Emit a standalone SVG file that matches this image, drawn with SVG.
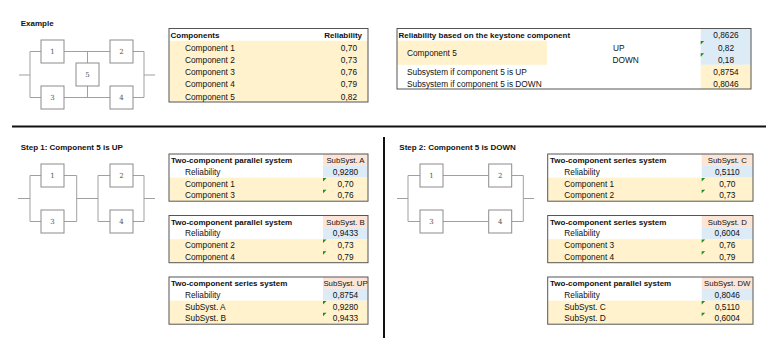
<svg xmlns="http://www.w3.org/2000/svg" xmlns:xlink="http://www.w3.org/1999/xlink" width="778" height="349" viewBox="0 0 778 349">
<defs>
<style>
.t{font-family:"Liberation Sans",Arial,sans-serif;font-size:8.3px;fill:#111}
.b{font-weight:bold;font-size:8px}
.m{text-anchor:middle}
.e{text-anchor:end}
.s{font-size:7.8px}
.box{fill:#fff;stroke:#8c8c8c;stroke-width:1}
.num{font-family:"DejaVu Serif","Liberation Serif",serif;font-size:7px;fill:#555;text-anchor:middle}
.wire{stroke:#a0a0a0;stroke-width:1;fill:none}
.tbl{fill:none;stroke:#555;stroke-width:1}
.y{fill:#FFF2CC}
.bl{fill:#DDEBF7}
.pk{fill:#FCE4D6}
.tri{fill:#1e8c1e}
.sep{stroke:#111;stroke-width:2}
</style>
<path id="tri" class="tri" d="M0,0h3.5l-3.5,3.5z"/>
</defs>
<rect width="778" height="349" fill="#fff"/>

<text class="t b" x="20.7" y="26">Example</text>
<text class="t b" x="20.7" y="150">Step 1: Component 5 is UP</text>
<text class="t b" x="399.3" y="150">Step 2: Component 5 is DOWN</text>

<g id="separators">
<line class="sep" x1="12" y1="126.5" x2="766" y2="126.5"/>
<line class="sep" x1="384" y1="137" x2="384" y2="338"/>
</g>

<g id="connectors">
<path class="wire" d="M19,75H30M30,51.5V97.5M30,51.5H41M30,97.5H41M64,51.5H110M64,97.5H110M87.5,51.5V63M87.5,86V97.5M133,51.5H144M133,97.5H144M144,51.5V97.5M144,75H155"/>
<path class="wire" d="M18,198.5H30M30,175.5V221.5M30,175.5H41M30,221.5H41M64,175.5H76.7M64,221.5H76.7M76.7,175.5V221.5M76.7,198.5H98M98,175.5V221.5M98,175.5H110M98,221.5H110M133,175.5H144M133,221.5H144M144,175.5V221.5M144,198.5H155"/>
<path class="wire" d="M397,198.5H408M408,175.5V221.5M408,175.5H420M408,221.5H420M443,175.5H488.7M443,221.5H488.7M511.7,175.5H523.3M511.7,221.5H523.3M523.3,175.5V221.5M523.3,198.5H534"/>
</g>

<g id="ex-c1"><rect class="box" x="41" y="40" width="23" height="23"/><text class="num" x="52.5" y="54">1</text></g>
<g id="ex-c2"><rect class="box" x="110" y="40" width="23" height="23"/><text class="num" x="121.5" y="54">2</text></g>
<g id="ex-c5"><rect class="box" x="76" y="63" width="23" height="23"/><text class="num" x="87.5" y="77">5</text></g>
<g id="ex-c3"><rect class="box" x="41" y="86" width="23" height="23"/><text class="num" x="52.5" y="100">3</text></g>
<g id="ex-c4"><rect class="box" x="110" y="86" width="23" height="23"/><text class="num" x="121.5" y="100">4</text></g>

<g id="s1-c1"><rect class="box" x="41" y="164" width="23" height="23"/><text class="num" x="52.5" y="178">1</text></g>
<g id="s1-c3"><rect class="box" x="41" y="210" width="23" height="23"/><text class="num" x="52.5" y="224">3</text></g>
<g id="s1-c2"><rect class="box" x="110" y="164" width="23" height="23"/><text class="num" x="121.5" y="178">2</text></g>
<g id="s1-c4"><rect class="box" x="110" y="210" width="23" height="23"/><text class="num" x="121.5" y="224">4</text></g>

<g id="s2-c1"><rect class="box" x="420" y="164" width="23" height="23"/><text class="num" x="431.5" y="178">1</text></g>
<g id="s2-c3"><rect class="box" x="420" y="210" width="23" height="23"/><text class="num" x="431.5" y="224">3</text></g>
<g id="s2-c2"><rect class="box" x="488.7" y="164" width="23" height="23"/><text class="num" x="500.2" y="178">2</text></g>
<g id="s2-c4"><rect class="box" x="488.7" y="210" width="23" height="23"/><text class="num" x="500.2" y="224">4</text></g>

<g id="components-table" transform="translate(169,28.5)">
<rect class="y" x="0" y="12.25" width="199" height="61.25"/>
<rect class="tbl" x="0" y="0" width="199" height="73.5"/>
<text class="t b" x="1.5" y="9.9">Components</text>
<text class="t b e" x="193" y="9.9">Reliability</text>
<text class="t" x="16" y="22.2">Component 1</text><text class="t e" x="188" y="22.2">0,70</text>
<text class="t" x="16" y="34.4">Component 2</text><text class="t e" x="188" y="34.4">0,73</text>
<text class="t" x="16" y="46.7">Component 3</text><text class="t e" x="188" y="46.7">0,76</text>
<text class="t" x="16" y="58.9">Component 4</text><text class="t e" x="188" y="58.9">0,79</text>
<text class="t" x="16" y="71.2">Component 5</text><text class="t e" x="188" y="71.2">0,82</text>
</g>

<g id="keystone-table" transform="translate(397,28.5)">
<rect class="bl" x="303.7" y="0" width="50.3" height="36.3"/>
<rect class="y" x="303.7" y="36.3" width="50.3" height="24.2"/>
<rect class="y" x="0" y="12.1" width="150" height="24.2"/>
<rect class="tbl" x="0" y="0" width="354" height="60.5"/>
<use xlink:href="#tri" x="303.7" y="12.6"/>
<use xlink:href="#tri" x="303.7" y="24.7"/>
<text class="t b" x="1.5" y="9.9">Reliability based on the keystone component</text>
<text class="t" x="10" y="27.5">Component 5</text>
<text class="t" x="216" y="22">UP</text>
<text class="t" x="215.5" y="34.1">DOWN</text>
<text class="t" x="10" y="46.2">Subsystem if component 5 is UP</text>
<text class="t" x="10" y="58.3">Subsystem if component 5 is DOWN</text>
<text class="t m" x="329" y="9.9">0,8626</text>
<text class="t m" x="329" y="22">0,82</text>
<text class="t m" x="329" y="34.1">0,18</text>
<text class="t m" x="329" y="46.2">0,8754</text>
<text class="t m" x="329" y="58.3">0,8046</text>
</g>

<g id="subsyst-a" transform="translate(169,154)">
<rect class="pk" x="154" y="0" width="45" height="11.8"/>
<rect class="bl" x="154" y="11.8" width="45" height="11.8"/>
<rect class="y" x="0" y="23.6" width="199" height="23.6"/>
<rect class="tbl" x="0" y="0" width="199" height="47.2"/>
<use xlink:href="#tri" x="154" y="24"/><use xlink:href="#tri" x="154" y="35.8"/>
<text class="t b" x="2" y="9">Two-component parallel system</text>
<text class="t s m" x="176.5" y="9">SubSyst. A</text>
<text class="t" x="16" y="20.8">Reliability</text><text class="t m" x="176.5" y="20.8">0,9280</text>
<text class="t" x="16" y="32.6">Component 1</text><text class="t m" x="176.5" y="32.6">0,70</text>
<text class="t" x="16" y="44.4">Component 3</text><text class="t m" x="176.5" y="44.4">0,76</text>
</g>

<g id="subsyst-b" transform="translate(169,215.5)">
<rect class="pk" x="154" y="0" width="45" height="11.8"/>
<rect class="bl" x="154" y="11.8" width="45" height="11.8"/>
<rect class="y" x="0" y="23.6" width="199" height="23.6"/>
<rect class="tbl" x="0" y="0" width="199" height="47.2"/>
<use xlink:href="#tri" x="154" y="24"/><use xlink:href="#tri" x="154" y="35.8"/>
<text class="t b" x="2" y="9">Two-component parallel system</text>
<text class="t s m" x="176.5" y="9">SubSyst. B</text>
<text class="t" x="16" y="20.8">Reliability</text><text class="t m" x="176.5" y="20.8">0,9433</text>
<text class="t" x="16" y="32.6">Component 2</text><text class="t m" x="176.5" y="32.6">0,73</text>
<text class="t" x="16" y="44.4">Component 4</text><text class="t m" x="176.5" y="44.4">0,79</text>
</g>

<g id="subsyst-up" transform="translate(169,277)">
<rect class="pk" x="154" y="0" width="45" height="11.8"/>
<rect class="bl" x="154" y="11.8" width="45" height="11.8"/>
<rect class="y" x="0" y="23.6" width="199" height="23.6"/>
<rect class="tbl" x="0" y="0" width="199" height="47.2"/>
<use xlink:href="#tri" x="154" y="24"/><use xlink:href="#tri" x="154" y="35.8"/>
<text class="t b" x="2" y="9">Two-component series system</text>
<text class="t s m" x="176.5" y="9">SubSyst. UP</text>
<text class="t" x="16" y="20.8">Reliability</text><text class="t m" x="176.5" y="20.8">0,8754</text>
<text class="t" x="16" y="32.6">SubSyst. A</text><text class="t m" x="176.5" y="32.6">0,9280</text>
<text class="t" x="16" y="44.4">SubSyst. B</text><text class="t m" x="176.5" y="44.4">0,9433</text>
</g>

<g id="subsyst-c" transform="translate(547.7,154)">
<rect class="pk" x="154" y="0" width="51.3" height="11.8"/>
<rect class="bl" x="154" y="11.8" width="51.3" height="11.8"/>
<rect class="y" x="0" y="23.6" width="205.3" height="23.6"/>
<rect class="tbl" x="0" y="0" width="205.3" height="47.2"/>
<use xlink:href="#tri" x="154" y="24"/><use xlink:href="#tri" x="154" y="35.8"/>
<text class="t b" x="2.3" y="9">Two-component series system</text>
<text class="t s m" x="179.6" y="9">SubSyst. C</text>
<text class="t" x="16.6" y="20.8">Reliability</text><text class="t m" x="179.6" y="20.8">0,5110</text>
<text class="t" x="16.6" y="32.6">Component 1</text><text class="t m" x="179.6" y="32.6">0,70</text>
<text class="t" x="16.6" y="44.4">Component 2</text><text class="t m" x="179.6" y="44.4">0,73</text>
</g>

<g id="subsyst-d" transform="translate(547.7,215.5)">
<rect class="pk" x="154" y="0" width="51.3" height="11.8"/>
<rect class="bl" x="154" y="11.8" width="51.3" height="11.8"/>
<rect class="y" x="0" y="23.6" width="205.3" height="23.6"/>
<rect class="tbl" x="0" y="0" width="205.3" height="47.2"/>
<use xlink:href="#tri" x="154" y="24"/><use xlink:href="#tri" x="154" y="35.8"/>
<text class="t b" x="2.3" y="9">Two-component series system</text>
<text class="t s m" x="179.6" y="9">SubSyst. D</text>
<text class="t" x="16.6" y="20.8">Reliability</text><text class="t m" x="179.6" y="20.8">0,6004</text>
<text class="t" x="16.6" y="32.6">Component 3</text><text class="t m" x="179.6" y="32.6">0,76</text>
<text class="t" x="16.6" y="44.4">Component 4</text><text class="t m" x="179.6" y="44.4">0,79</text>
</g>

<g id="subsyst-dw" transform="translate(547.7,277)">
<rect class="pk" x="154" y="0" width="51.3" height="11.8"/>
<rect class="bl" x="154" y="11.8" width="51.3" height="11.8"/>
<rect class="y" x="0" y="23.6" width="205.3" height="23.6"/>
<rect class="tbl" x="0" y="0" width="205.3" height="47.2"/>
<use xlink:href="#tri" x="154" y="24"/><use xlink:href="#tri" x="154" y="35.8"/>
<text class="t b" x="2.3" y="9">Two-component parallel system</text>
<text class="t s m" x="179.6" y="9">SubSyst. DW</text>
<text class="t" x="16.6" y="20.8">Reliability</text><text class="t m" x="179.6" y="20.8">0,8046</text>
<text class="t" x="16.6" y="32.6">SubSyst. C</text><text class="t m" x="179.6" y="32.6">0,5110</text>
<text class="t" x="16.6" y="44.4">SubSyst. D</text><text class="t m" x="179.6" y="44.4">0,6004</text>
</g>
</svg>
